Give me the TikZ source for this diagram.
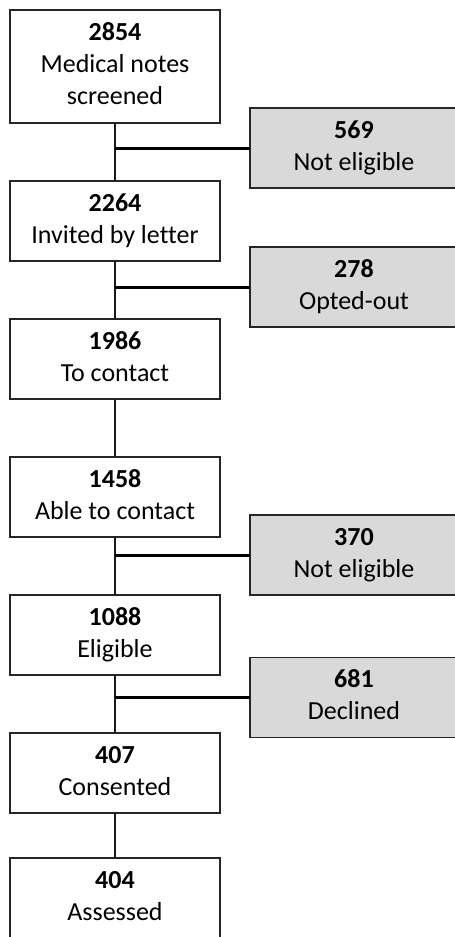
\documentclass[tikz,border=0pt]{standalone}
\usepackage{fontspec}
\setmainfont[Ligatures=NoCommon]{Carlito}
\usepackage{tikz}
\usetikzlibrary{positioning}

\begin{document}
\begin{tikzpicture}[
        x=1pt, y=-1pt,
        stagebox/.style={rectangle, draw=black!85, line width=1.1pt, fill=white,
            minimum width=210pt, minimum height=80pt, inner sep=0pt, outer sep=0pt,
            align=center, font=\fontsize{26}{32}\selectfont},
        exitbox/.style={stagebox, fill=black!15, minimum width=208pt},
        flow/.style={draw=black!90, line width=1.5pt},
        branch/.style={draw=black, line width=3pt}
    ]

        % Fix the page to the size of the picture
        \useasboundingbox (0,0) rectangle (455,937);

        % Main stages (left column)
        \node[stagebox, minimum height=113pt] (screened) at (115,66.5)
            {\strut\textbf{2854}\\Medical notes\\screened\strut};
        \node[stagebox] (invited) at (115,221) {\strut\textbf{2264}\\Invited by letter\strut};
        \node[stagebox] (tocontact) at (115,359) {\strut\textbf{1986}\\To contact\strut};
        \node[stagebox] (able) at (115,497) {\strut\textbf{1458}\\Able to contact\strut};
        \node[stagebox] (eligible) at (115,635) {\strut\textbf{1088}\\Eligible\strut};
        \node[stagebox] (consented) at (115,773) {\strut\textbf{407}\\Consented\strut};
        \node[stagebox] (assessed) at (115,898) {\strut\textbf{404}\\Assessed\strut};

        % Exclusions (grey boxes on the right)
        \node[exitbox] (noteligA) at (354,148) {\strut\textbf{569}\\Not eligible\strut};
        \node[exitbox] (optedout) at (354,287) {\strut\textbf{278}\\Opted-out\strut};
        \node[exitbox] (noteligB) at (354,555) {\strut\textbf{370}\\Not eligible\strut};
        \node[exitbox] (declined) at (354,697.5) {\strut\textbf{681}\\Declined\strut};

        % Vertical connectors between the stages
        \draw[flow] (screened) -- (invited);
        \draw[flow] (invited) -- (tocontact);
        \draw[flow] (tocontact) -- (able);
        \draw[flow] (able) -- (eligible);
        \draw[flow] (eligible) -- (consented);
        \draw[flow] (consented) -- (assessed);

        % Branches to the exclusions
        \draw[branch] (screened |- noteligA.west) -- (noteligA.west);
        \draw[branch] (invited |- optedout.west) -- (optedout.west);
        \draw[branch] (able |- noteligB.west) -- (noteligB.west);
        \draw[branch] (eligible |- declined.west) -- (declined.west);

\end{tikzpicture}
\end{document}
